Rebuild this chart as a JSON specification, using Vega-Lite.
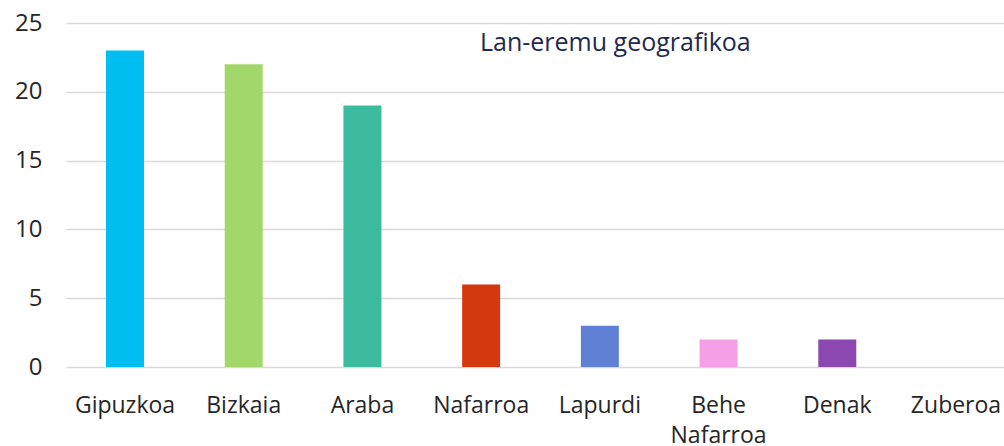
{
  "$schema": "https://vega.github.io/schema/vega-lite/v6.json",
  "autosize": "none",
  "width": 938,
  "height": 344,
  "padding": {"left": 66, "top": 23, "right": 0, "bottom": 79},
  "background": "white",
  "title": {
    "text": "Lan-eremu geografikoa",
    "anchor": "start",
    "frame": "group",
    "dx": 414,
    "dy": 49,
    "font": "Open Sans",
    "fontSize": 25,
    "fontWeight": "normal",
    "color": "#1F2A4E"
  },
  "data": {
    "values": [
      {"eremua": "Gipuzkoa", "kopurua": 23, "kolorea": "#00BEF2"},
      {"eremua": "Bizkaia", "kopurua": 22, "kolorea": "#A2D86A"},
      {"eremua": "Araba", "kopurua": 19, "kolorea": "#3DBB9E"},
      {"eremua": "Nafarroa", "kopurua": 6, "kolorea": "#D4380E"},
      {"eremua": "Lapurdi", "kopurua": 3, "kolorea": "#6080D6"},
      {"eremua": "Behe Nafarroa", "kopurua": 2, "kolorea": "#F5A0E6"},
      {"eremua": "Denak", "kopurua": 2, "kolorea": "#8A48B0"},
      {"eremua": "Zuberoa", "kopurua": 0, "kolorea": "#999999"}
    ]
  },
  "mark": {"type": "bar"},
  "encoding": {
    "x": {
      "field": "eremua",
      "type": "nominal",
      "sort": null,
      "scale": {"range": [0, 949], "paddingInner": 0.68, "paddingOuter": 0.337},
      "axis": {
        "title": null,
        "labelAngle": 0,
        "domain": false,
        "ticks": false,
        "labelPadding": 27,
        "labelFont": "Open Sans",
        "labelFontSize": 23,
        "labelColor": "#262626",
        "labelLineHeight": 30,
        "labelExpr": "split(datum.value, ' ')"
      }
    },
    "y": {
      "field": "kopurua",
      "type": "quantitative",
      "scale": {"domain": [0, 25]},
      "axis": {
        "title": null,
        "values": [0, 5, 10, 15, 20, 25],
        "domain": false,
        "ticks": false,
        "labelPadding": 24,
        "labelFont": "Open Sans",
        "labelFontSize": 24,
        "labelColor": "#262626",
        "gridColor": "#D9D9D9",
        "gridWidth": 1.5
      }
    },
    "color": {"field": "kolorea", "type": "nominal", "scale": null, "legend": null}
  },
  "config": {"view": {"stroke": null}}
}
